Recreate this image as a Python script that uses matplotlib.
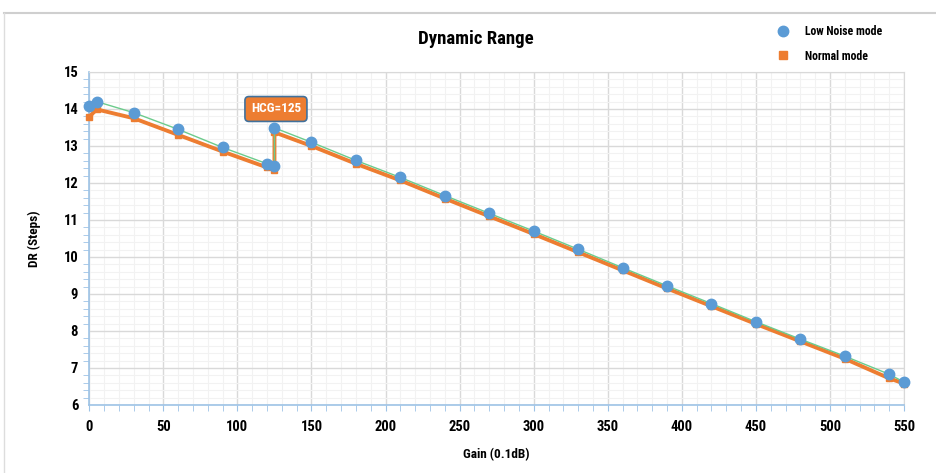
import matplotlib
matplotlib.use('Agg')
import matplotlib.pyplot as plt
from matplotlib.lines import Line2D
from matplotlib.ticker import MultipleLocator
from matplotlib import font_manager

# prefer a narrow face if one is installed, else Liberation Sans
names = set(f.name for f in font_manager.fontManager.ttflist)
fams = [f for f in ['Roboto Condensed', 'Liberation Sans Narrow', 'Liberation Sans'] if f in names]
plt.rcParams['font.family'] = fams + ['DejaVu Sans']

# values
gain = [0, 5, 30, 60, 90, 120, 125, 125, 150, 180, 210, 240, 270, 300,
        330, 360, 390, 420, 450, 480, 510, 540, 550]
dr_low_noise = [14.08, 14.2, 13.9, 13.45, 12.96, 12.52, 12.46, 13.49, 13.1,
                12.61, 12.15, 11.66, 11.18, 10.70, 10.21, 9.71, 9.22, 8.74,
                8.25, 7.78, 7.32, 6.83, 6.62]
dr_normal = [13.79, 13.99, 13.75, 13.3, 12.85, 12.42, 12.35, 13.37, 13.0,
             12.52, 12.07, 11.58, 11.1, 10.62, 10.13, 9.64, 9.15, 8.67,
             8.19, 7.72, 7.25, 6.72, 6.58]
series_names = ['Low Noise mode', 'Normal mode']
hcg_gain = 125
hcg_label = 'HCG=125'

blue = '#5B9BD5'
orange = '#ED7D31'
green = '#6CCB8C'

fig = plt.figure(figsize=(9.37, 4.73), dpi=100, facecolor='white')
ax = fig.add_axes([0.0953, 0.1438, 0.8695, 0.704])

# orange (normal) thick line with squares, green thin line under blue dots
ax.plot(gain, dr_normal, color=orange, linewidth=2.8, marker='s',
        markersize=5, zorder=3, clip_on=False)
ax.plot(gain, dr_low_noise, color=green, linewidth=1.0, zorder=4, clip_on=False)
ax.plot(gain, dr_low_noise, linestyle='none', marker='o', markersize=7.5,
        color=blue, zorder=5, clip_on=False)

ax.text(hcg_gain + 1, 14.0, hcg_label, ha='center', va='center',
        color='white', fontsize=9.5, fontweight='bold', zorder=6,
        bbox=dict(boxstyle='round,pad=0.45,rounding_size=0.3',
                  fc=orange, ec='#41719C', lw=1.2))

ax.set_xlim(0, 550)
ax.set_ylim(6, 15)
ax.xaxis.set_major_locator(MultipleLocator(50))
ax.xaxis.set_minor_locator(MultipleLocator(10))
ax.yaxis.set_major_locator(MultipleLocator(1))
ax.yaxis.set_minor_locator(MultipleLocator(0.2))

ax.grid(which='major', color='#D9D9D9', linewidth=1.0, zorder=0)
ax.grid(which='minor', color='#F2F2F2', linewidth=0.8, zorder=0)
ax.set_axisbelow(True)

for side in ['top', 'right']:
    ax.spines[side].set_color('#D9D9D9')
for side in ['left', 'bottom']:
    ax.spines[side].set_color('#9DC3E6')
    ax.spines[side].set_linewidth(1.2)

ax.tick_params(which='both', colors='#9DC3E6', labelcolor='black')
ax.tick_params(which='major', length=0, labelsize=10.5)
ax.tick_params(axis='y', which='major', pad=8)
ax.tick_params(axis='x', which='major', length=4, pad=7)
ax.tick_params(which='minor', length=4)
for lab in ax.get_xticklabels() + ax.get_yticklabels():
    lab.set_fontweight('bold')

ax.set_xlabel('Gain (0.1dB)', fontsize=9.5, fontweight='bold', labelpad=10)
ax.set_ylabel('DR (Steps)', fontsize=9.5, fontweight='bold', labelpad=16)

fig.text(0.508, 0.918, 'Dynamic Range', ha='center', va='center',
         fontsize=13.5, fontweight='bold')

handles = [Line2D([], [], linestyle='none', marker='o', markersize=7.5, color=blue),
           Line2D([], [], linestyle='none', marker='s', markersize=5.5, color=orange)]
leg = fig.legend(handles, series_names, loc='upper left',
                 bbox_to_anchor=(0.812, 0.97), frameon=False,
                 prop={'size': 8.5, 'weight': 'bold'}, labelspacing=1.0,
                 handletextpad=0.8)

# thin grey frame lines seen at the top and left of the screenshot
fig.add_artist(Line2D([4 / 937, 1], [1 - 13 / 473, 1 - 13 / 473],
                      transform=fig.transFigure, color='#CFCFCF', linewidth=1.5))
fig.add_artist(Line2D([4 / 937, 4 / 937], [0, 1 - 13 / 473],
                      transform=fig.transFigure, color='#DDDDDD', linewidth=1.0))

plt.savefig('out.png', dpi=100, facecolor='white')
